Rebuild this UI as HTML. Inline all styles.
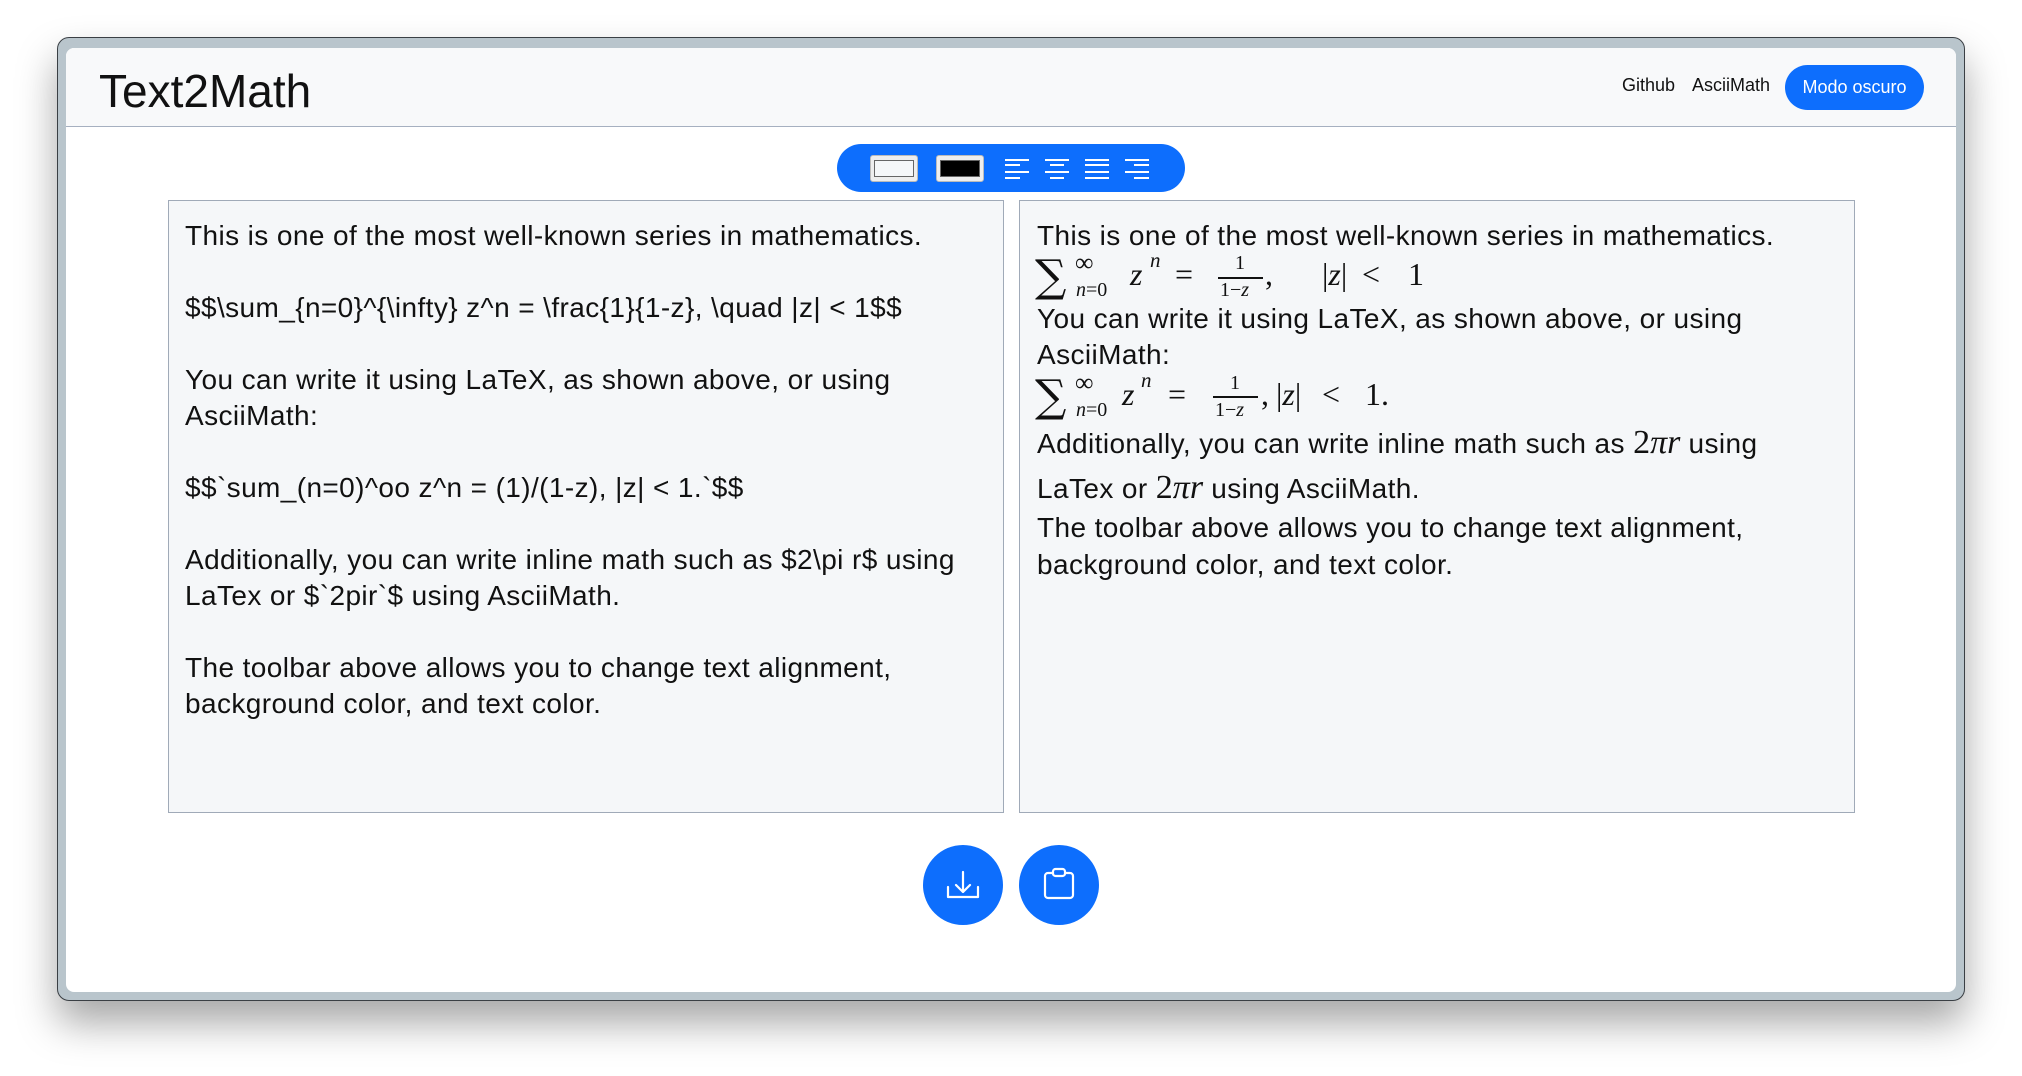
<!DOCTYPE html>
<html><head><meta charset="utf-8">
<style>
*{margin:0;padding:0;box-sizing:border-box}
body{width:2022px;height:1076px;background:#fff;position:relative;overflow:hidden;font-family:"Liberation Sans",Arial,sans-serif;color:#111}
.win{position:absolute;left:57px;top:37px;width:1908px;height:964px;border-radius:12px;background:#b9c5cc;border:1px solid #3a3f44;box-shadow:0 22px 40px rgba(0,0,0,0.35)}
.inner{position:absolute;left:66px;top:48px;width:1890px;height:944px;border-radius:8px;background:#fff;overflow:hidden}
.hdr{position:absolute;left:0;top:0;width:100%;height:79px;background:#f8f9fa;border-bottom:1px solid #a6b0c0}
.a{position:absolute;white-space:nowrap}
.panel{position:absolute;top:200px;width:836px;height:613px;background:#f5f7f9;border:1px solid #a0aab8}
.txt{font-size:28px;line-height:36px;letter-spacing:0.4px}
.m{font-family:"Liberation Serif",serif;letter-spacing:0}
.i{font-style:italic}
.al{position:absolute;top:159px;width:24px;height:20px}
.al i{position:absolute;height:2px;background:#fff}
</style></head><body>
<div class="win"></div>
<div class="inner">
  <div class="hdr">
    <div class="a" style="left:33px;top:17px;font-size:46px;line-height:52px;">Text2Math</div>
    <div class="a" style="left:1556px;top:26px;font-size:18px;line-height:22px;">Github</div>
    <div class="a" style="left:1626px;top:26px;font-size:18px;line-height:22px;">AsciiMath</div>
    <div class="a" style="left:1719px;top:17px;width:139px;height:45px;border-radius:23px;background:#0d6efd;color:#fff;font-size:18px;line-height:45px;text-align:center;">Modo oscuro</div>
  </div>
</div>
<!-- toolbar -->
<div class="a" style="left:837px;top:144px;width:348px;height:48px;border-radius:24px;background:#0d6efd"></div>
<div class="a" style="left:870px;top:155px;width:48px;height:27px;border-radius:3px;background:#eee;border:1px solid #bbb"><div style="position:absolute;left:3px;top:4px;right:3px;bottom:4px;background:#f5f7f9;border:1px solid #666"></div></div>
<div class="a" style="left:936px;top:155px;width:48px;height:27px;border-radius:3px;background:#eee;border:1px solid #bbb"><div style="position:absolute;left:3px;top:4px;right:3px;bottom:4px;background:#000;border:1px solid #666"></div></div>
<div class="al" style="left:1005px"><i style="left:0;top:0;width:24px"></i><i style="left:0;top:5px;width:15px"></i><i style="left:0;top:12px;width:24px"></i><i style="left:0;top:18px;width:15px"></i></div>
<div class="al" style="left:1045px"><i style="left:0;top:0;width:24px"></i><i style="left:5px;top:5px;width:14px"></i><i style="left:0;top:12px;width:24px"></i><i style="left:5px;top:18px;width:14px"></i></div>
<div class="al" style="left:1085px"><i style="left:0;top:0;width:24px"></i><i style="left:0;top:5px;width:24px"></i><i style="left:0;top:12px;width:24px"></i><i style="left:0;top:18px;width:24px"></i></div>
<div class="al" style="left:1125px"><i style="left:0;top:0;width:24px"></i><i style="left:9px;top:5px;width:15px"></i><i style="left:0;top:12px;width:24px"></i><i style="left:9px;top:18px;width:15px"></i></div>

<!-- left panel -->
<div class="panel" style="left:168px"></div>
<div class="a txt" style="left:185px;top:218px;white-space:pre">This is one of the most well-known series in mathematics.

$$\sum_{n=0}^{\infty} z^n = \frac{1}{1-z}, \quad |z| &lt; 1$$

You can write it using LaTeX, as shown above, or using
AsciiMath:

$$`sum_(n=0)^oo z^n = (1)/(1-z), |z| &lt; 1.`$$

Additionally, you can write inline math such as $2\pi r$ using
LaTex or $`2pir`$ using AsciiMath.

The toolbar above allows you to change text alignment,
background color, and text color.</div>

<!-- right panel -->
<div class="panel" style="left:1019px"></div>
<div class="a txt" style="left:1037px;top:218px">This is one of the most well-known series in mathematics.</div>
<!-- formula 1 -->
<span class="a" style="left:1035px;top:255px;font-family:'DejaVu Serif',serif;font-size:44px;line-height:44px">∑</span>
<span class="a m" style="left:1075px;top:250px;font-size:26px;line-height:26px">∞</span>
<span class="a m" style="left:1076px;top:280px;font-size:20px;line-height:20px"><i>n</i>=0</span>
<span class="a m i" style="left:1130px;top:258px;font-size:32px;line-height:32px">z</span>
<span class="a m i" style="left:1150px;top:250px;font-size:21px;line-height:21px">n</span>
<span class="a m" style="left:1175px;top:258px;font-size:32px;line-height:32px">=</span>
<span class="a m" style="left:1235px;top:253px;font-size:20px;line-height:20px">1</span>
<div class="a" style="left:1218px;top:277px;width:45px;height:1.5px;background:#111"></div>
<span class="a m" style="left:1220px;top:280px;font-size:20px;line-height:20px">1−<i>z</i></span>
<span class="a m" style="left:1265px;top:258px;font-size:32px;line-height:32px">,</span>
<span class="a m" style="left:1322px;top:258px;font-size:32px;line-height:32px">|<i>z</i>|</span>
<span class="a m" style="left:1362px;top:258px;font-size:32px;line-height:32px">&lt;</span>
<span class="a m" style="left:1408px;top:258px;font-size:32px;line-height:32px">1</span>

<div class="a txt" style="left:1037px;top:301px">You can write it using LaTeX, as shown above, or using</div>
<div class="a txt" style="left:1037px;top:337px">AsciiMath:</div>
<!-- formula 2 -->
<span class="a" style="left:1035px;top:375px;font-family:'DejaVu Serif',serif;font-size:44px;line-height:44px">∑</span>
<span class="a m" style="left:1075px;top:370px;font-size:26px;line-height:26px">∞</span>
<span class="a m" style="left:1076px;top:400px;font-size:20px;line-height:20px"><i>n</i>=0</span>
<span class="a m i" style="left:1122px;top:378px;font-size:32px;line-height:32px">z</span>
<span class="a m i" style="left:1141px;top:370px;font-size:21px;line-height:21px">n</span>
<span class="a m" style="left:1168px;top:378px;font-size:32px;line-height:32px">=</span>
<span class="a m" style="left:1230px;top:373px;font-size:20px;line-height:20px">1</span>
<div class="a" style="left:1213px;top:396px;width:45px;height:1.5px;background:#111"></div>
<span class="a m" style="left:1215px;top:400px;font-size:20px;line-height:20px">1−<i>z</i></span>
<span class="a m" style="left:1261px;top:378px;font-size:32px;line-height:32px">,</span>
<span class="a m" style="left:1276px;top:378px;font-size:32px;line-height:32px">|<i>z</i>|</span>
<span class="a m" style="left:1322px;top:378px;font-size:32px;line-height:32px">&lt;</span>
<span class="a m" style="left:1365px;top:378px;font-size:32px;line-height:32px">1.</span>

<div class="a txt" style="left:1037px;top:425px">Additionally, you can write inline math such as <span class="m" style="font-size:34px">2<i>πr</i></span> using</div>
<div class="a txt" style="left:1037px;top:470px">LaTex or <span class="m" style="font-size:34px">2<i>πr</i></span> using AsciiMath.</div>
<div class="a txt" style="left:1037px;top:510px">The toolbar above allows you to change text alignment,</div>
<div class="a txt" style="left:1037px;top:547px">background color, and text color.</div>

<!-- buttons -->
<div class="a" style="left:923px;top:845px;width:80px;height:80px;border-radius:50%;background:#0d6efd">
<svg width="80" height="80" viewBox="0 0 80 80"><g fill="none" stroke="#fff" stroke-width="2.2" stroke-linecap="round" stroke-linejoin="round"><path d="M40 27V47M33 40L40 47L47 40"/><path d="M25 42V52H55V42"/></g></svg></div>
<div class="a" style="left:1019px;top:845px;width:80px;height:80px;border-radius:50%;background:#0d6efd">
<svg width="80" height="80" viewBox="0 0 80 80"><g fill="none" stroke="#fff" stroke-width="2.2" stroke-linejoin="round"><rect x="26" y="28" width="28" height="25" rx="3"/><rect x="34" y="24" width="12" height="7" rx="2.5" fill="#0d6efd"/></g></svg></div>
</body></html>
